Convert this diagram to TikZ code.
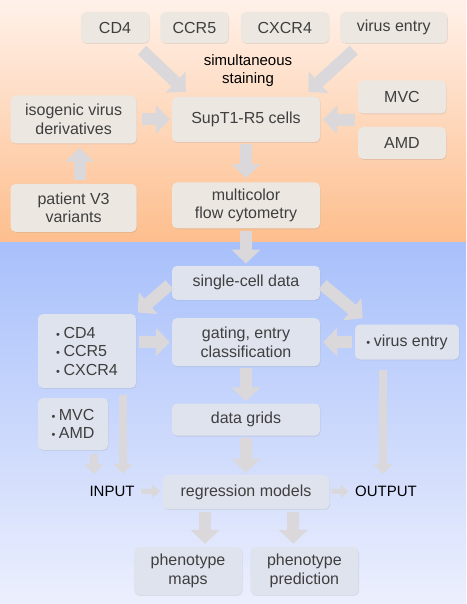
\documentclass[tikz,border=0pt]{standalone}
\usepackage{fontspec}
\setmainfont{Liberation Sans}
\usepackage{xcolor}
\usepackage{tikz}
\usetikzlibrary{arrows.meta}
\usetikzlibrary{calc}
\usetikzlibrary{positioning}
\usetikzlibrary{shadows}

\definecolor{peachtop}{HTML}{FFF1E9}
\definecolor{peachbot}{HTML}{FDBE8D}
\definecolor{bluetop}{HTML}{A8C0FB}
\definecolor{bluebot}{HTML}{ECEFFD}
\definecolor{topfill}{HTML}{EDE7E2}
\definecolor{botfill}{HTML}{DFE3EE}
\definecolor{arrowgray}{HTML}{DAD8DA}
\definecolor{textgray}{HTML}{3F3F3F}

\newcommand{\bul}{{\fontsize{11}{11}\selectfont\textbullet}\hspace{3.5pt}}

\tikzset{
  topbox/.style={fill=topfill, text=textgray, rounded corners=5pt, align=center,
    inner sep=2pt, font=\fontsize{16}{18.5}\selectfont,
    drop shadow={opacity=0.18, shadow xshift=0.6pt, shadow yshift=-0.9pt}},
  botbox/.style={topbox, fill=botfill},
  plain/.style={text=black, align=center, font=\fontsize{15}{18}\selectfont},
  fat/.style={draw=arrowgray, line width=12pt, -{Triangle[width=28pt,length=14pt]}},
  slim/.style={draw=arrowgray, line width=8pt, -{Triangle[width=18pt,length=10pt]}},
  tiny/.style={draw=arrowgray, line width=5pt, -{Triangle[width=13pt,length=8pt]}}
}

\begin{document}
\begin{tikzpicture}[x=1pt, y=-1pt]
     %background
     \useasboundingbox (0,0) rectangle (466,604);
     \shade[top color=peachtop, bottom color=peachbot] (0,0) rectangle (466,242);
     \shade[top color=bluetop, bottom color=bluebot] (0,242) rectangle (466,604);

     %nodes, upper part
     \node[topbox, minimum width=68pt, minimum height=31pt] (cd4) at (115,27.5) {CD4};
     \node[topbox, minimum width=68pt, minimum height=31pt, right=11pt of cd4] (ccr5) {CCR5};
     \node[topbox, minimum width=88pt, minimum height=31pt, right=12pt of ccr5] (cxcr4) {CXCR4};
     \node[topbox, minimum width=107pt, minimum height=31pt, right=11pt of cxcr4] (ventry) {virus entry};
     \node[plain] (stain) at (248,71) {simultaneous\\staining};
     \node[topbox, minimum width=148pt, minimum height=45pt] (supt) at (246,119.5) {SupT1-R5 cells};
     \node[topbox, minimum width=148pt, minimum height=46pt, below=40pt of supt] (flow) {multicolor\\flow cytometry};
     \node[topbox, minimum width=126pt, minimum height=48pt, left=35pt of supt] (iso) {isogenic virus\\derivatives};
     \node[topbox, minimum width=126pt, minimum height=48pt, below=40pt of iso] (patient) {patient V3\\variants};
     \node[topbox, minimum width=88pt, minimum height=33pt] (mvc) at (402,97) {MVC};
     \node[topbox, minimum width=88pt, minimum height=32pt] (amd) at (402,143) {AMD};

     %nodes, lower part
     \node[botbox, minimum width=148pt, minimum height=34pt, below=37pt of flow] (single) {single-cell data};
     \node[botbox, minimum width=148pt, minimum height=48pt, below=18pt of single] (gating) {gating, entry\\classification};
     \node[botbox, minimum width=148pt, minimum height=32pt, below=37pt of gating] (grids) {data grids};
     \node[botbox, minimum width=167pt, minimum height=34pt, below=39pt of grids] (regress) {regression models};
     \node[botbox, minimum width=98pt, minimum height=74pt, align=left] (markers) at (87,351) {\bul CD4\\\bul CCR5\\\bul CXCR4};
     \node[botbox, minimum width=104pt, minimum height=35pt] (ventry2) at (407,342) {\bul virus entry};
     \node[botbox, minimum width=70pt, minimum height=52pt, align=left] (drugs) at (73,424) {\bul MVC\\\bul AMD};
     \node[plain] (input) at (112,491) {INPUT};
     \node[plain] (output) at (386,491) {OUTPUT};
     \node[botbox, minimum width=108pt, minimum height=48pt] (maps) at (188,571) {phenotype\\maps};
     \node[botbox, minimum width=108pt, minimum height=48pt, right=8pt of maps] (pred) {phenotype\\prediction};

     \coordinate (inL) at (123,474);
     \coordinate (inM) at (94,474);
     \coordinate (outR) at (383,474);

     %arrows, upper part
     \draw[fat] ($(cd4.south)+(27,7)$) -- ($(supt.north west)+(14,-5)$);
     \draw[fat] ($(ventry.south)+(-40,7)$) -- ($(supt.north east)+(-12,-5)$);
     \draw[fat, shorten <=5pt, shorten >=2pt] (iso) -- (supt);
     \draw[fat, shorten <=3pt, shorten >=3pt] ($(mvc.west)!.5!(amd.west)$) -- (supt.east);
     \draw[fat, shorten <=4pt, shorten >=4pt] ($(patient.north)+(6,0)$) -- ($(iso.south)+(6,0)$);
     \draw[fat, shorten <=2pt, shorten >=4pt] (supt) -- (flow);

     %arrows, lower part
     \draw[fat, shorten <=2pt, shorten >=2pt] (flow) -- (single);
     \draw[fat, shorten <=3pt, shorten >=2pt] (single.west) -- (markers.north east);
     \draw[fat, shorten <=3pt] (single.east) -- ($(ventry2.north west)+(8,-6)$);
     \draw[fat, shorten <=3pt, shorten >=2pt] (markers.east |- gating.west) -- (gating.west);
     \draw[fat, shorten <=3pt, shorten >=3pt] (ventry2.west) -- (gating.east);
     \draw[fat, shorten <=2pt, shorten >=2pt] (gating) -- (grids);
     \draw[fat, shorten <=2pt, shorten >=2pt] (grids) -- (regress);
     \draw[slim, shorten <=7pt] (markers.south -| inL) -- (inL);
     \draw[slim, shorten <=4pt] (drugs.south -| inM) -- (inM);
     \draw[slim, shorten <=10pt] (ventry2.south -| outR) -- (outR);
     \draw[tiny, shorten <=3pt, shorten >=2pt] (input) -- (regress);
     \draw[tiny, shorten <=2pt, shorten >=3pt] (regress) -- (output);
     \draw[fat, shorten <=3pt, shorten >=3pt] ($(regress.south)+(-41,0)$) -- ($(maps.north)+(17,0)$);
     \draw[fat, shorten <=3pt, shorten >=3pt] ($(regress.south)+(47,0)$) -- ($(pred.north)+(-11,0)$);
\end{tikzpicture}
\end{document}
